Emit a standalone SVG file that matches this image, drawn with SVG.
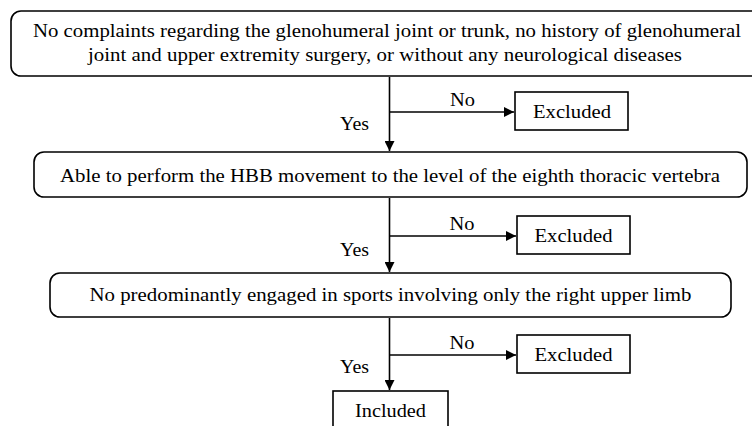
<svg xmlns="http://www.w3.org/2000/svg" width="752" height="426" viewBox="0 0 752 426">
<defs>
<marker id="arr" markerWidth="10" markerHeight="10" refX="10" refY="5" orient="auto" markerUnits="userSpaceOnUse">
<path d="M0,0 L10,5 L0,10 Z" fill="#000"/>
</marker>
<style>
.t{font-size:18.5px;fill:#000;text-anchor:middle}
.box{fill:#fff;stroke:#000;stroke-width:1.6}
.ln{stroke:#000;stroke-width:1.6;fill:none}
</style>
</defs>
<rect width="752" height="426" fill="#fff"/>
<g font-family="Liberation Serif, 'Times New Roman', 'DejaVu Serif', 'Noto Serif', serif">
<g id="n1">
<rect class="box" x="11" y="11" width="752" height="65" rx="10"/>
<text class="t" x="387" y="37" textLength="708" lengthAdjust="spacingAndGlyphs">No complaints regarding the glenohumeral joint or trunk, no history of glenohumeral</text>
<text class="t" x="385" y="61" textLength="594" lengthAdjust="spacingAndGlyphs">joint and upper extremity surgery, or without any neurological diseases</text>
</g>
<g id="ex1">
<rect class="box" x="515" y="92" width="113" height="38"/>
<text class="t" x="572" y="118" textLength="78" lengthAdjust="spacingAndGlyphs">Excluded</text>
</g>
<g id="n2">
<rect class="box" x="34" y="152" width="713" height="45" rx="10"/>
<text class="t" x="390" y="182" textLength="660" lengthAdjust="spacingAndGlyphs">Able to perform the HBB movement to the level of the eighth thoracic vertebra</text>
</g>
<g id="ex2">
<rect class="box" x="517" y="216" width="113" height="38"/>
<text class="t" x="573.5" y="242" textLength="78" lengthAdjust="spacingAndGlyphs">Excluded</text>
</g>
<g id="n3">
<rect class="box" x="50" y="273" width="681" height="44" rx="10"/>
<text class="t" x="390.5" y="301" textLength="602" lengthAdjust="spacingAndGlyphs">No predominantly engaged in sports involving only the right upper limb</text>
</g>
<g id="ex3">
<rect class="box" x="517" y="335" width="113" height="38"/>
<text class="t" x="573.5" y="361" textLength="78" lengthAdjust="spacingAndGlyphs">Excluded</text>
</g>
<g id="inc">
<rect class="box" x="333" y="391" width="115" height="45"/>
<text class="t" x="390.5" y="417" textLength="71" lengthAdjust="spacingAndGlyphs">Included</text>
</g>
<g id="connectors">
<line class="ln" x1="389.5" y1="77" x2="389.5" y2="151" marker-end="url(#arr)"/>
<line class="ln" x1="389.5" y1="112" x2="514" y2="112" marker-end="url(#arr)"/>
<line class="ln" x1="389.5" y1="198" x2="389.5" y2="272" marker-end="url(#arr)"/>
<line class="ln" x1="389.5" y1="236" x2="516" y2="236" marker-end="url(#arr)"/>
<line class="ln" x1="389.5" y1="318" x2="389.5" y2="390" marker-end="url(#arr)"/>
<line class="ln" x1="389.5" y1="355" x2="516" y2="355" marker-end="url(#arr)"/>
<text class="t" x="462.5" y="106" textLength="25" lengthAdjust="spacingAndGlyphs">No</text>
<text class="t" x="354.5" y="130" textLength="29" lengthAdjust="spacingAndGlyphs">Yes</text>
<text class="t" x="462" y="230" textLength="25" lengthAdjust="spacingAndGlyphs">No</text>
<text class="t" x="354.5" y="256" textLength="29" lengthAdjust="spacingAndGlyphs">Yes</text>
<text class="t" x="462" y="349" textLength="25" lengthAdjust="spacingAndGlyphs">No</text>
<text class="t" x="354.5" y="373" textLength="29" lengthAdjust="spacingAndGlyphs">Yes</text>
</g>
</g>
</svg>
